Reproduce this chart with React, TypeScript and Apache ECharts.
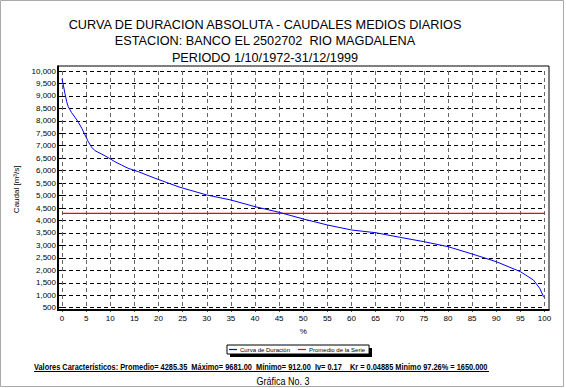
import React, { useEffect, useRef } from "react";
import * as echarts from "echarts";

const titleLines = [
  "CURVA DE DURACION ABSOLUTA - CAUDALES MEDIOS DIARIOS",
  "ESTACION: BANCO EL 2502702  RIO MAGDALENA",
  "PERIODO 1/10/1972-31/12/1999",
];

const pctValues = [0, 0.27, 0.6, 0.97, 1.3, 2.0, 2.7, 3.4, 4.1, 4.77, 5.45, 6.15, 6.84, 8.2, 9.6, 10.96, 12.3, 13.7, 15.8, 19.3, 24.45, 30, 35, 40, 45, 50, 55, 60, 65, 70, 75, 80, 85, 90, 95, 97.7, 99, 99.8, 100];
const caudalValues = [9681, 9438, 9105, 8768, 8567, 8327, 8142, 7941, 7700, 7432, 7163, 6938, 6802, 6669, 6521, 6360, 6228, 6095, 5960, 5694, 5333, 5024, 4823, 4555, 4329, 4061, 3820, 3619, 3510, 3326, 3151, 2950, 2656, 2347, 1946, 1613, 1280, 943, 912];

const promedio = 4285.35;
const promedioPct = [0, 100];

const seriesNames = ["Curva de Duración", "Promedio de la Serie"];
const statsText =
  "Valores Característicos: Promedio= 4285.35  Máximo= 9681.00  Mínimo= 912.00  Iv= 0.17    Kr = 0.04885 Minimo 97.26% = 1650.000";
const footerText = "Gráfica No. 3";
const yAxisName = "Caudal [m³/s]";
const xAxisName = "%";

const fmt = (v: number) => {
  const s = String(Math.round(v));
  return s.replace(/\B(?=(\d{3})+(?!\d))/g, ",");
};

export default function App() {
  const ref = useRef<HTMLDivElement>(null);
  useEffect(() => {
    if (!ref.current) return;
    const chart = echarts.init(ref.current, null, { renderer: "svg" });
    const font = "Liberation Sans, Arial, sans-serif";
    chart.setOption({
      animation: false,
      backgroundColor: "#ffffff",
      grid: {
        left: 62,
        right: 21.5,
        top: 71,
        bottom: 80.3,
        outerBoundsMode: "none",
        containLabel: false,
      },
      legend: {
        left: 227,
        top: 345,
        data: seriesNames.map((n) => ({ name: n, icon: "rect" })),
        orient: "horizontal",
        itemWidth: 8,
        itemHeight: 1.2,
        itemGap: 8,
        padding: [1, 4, 1, 2],
        backgroundColor: "#ffffff",
        borderColor: "#000",
        borderWidth: 1,
        borderRadius: 0,
        textStyle: { fontSize: 6, fontFamily: font, color: "#000", padding: [0, 0, 0, -2], lineHeight: 7 },
        z: 10,
      },
      xAxis: {
        type: "value",
        min: 0,
        max: 100,
        interval: 5,
        offset: 2,
        name: xAxisName,
        nameLocation: "middle",
        nameGap: 18,
        nameTextStyle: { fontSize: 8, fontFamily: font, color: "#000" },
        axisLine: { show: false },
        axisTick: { show: true, length: 2, lineStyle: { color: "#000" } },
        axisLabel: { fontSize: 8, fontFamily: font, color: "#000", margin: 5 },
        splitLine: { show: true, lineStyle: { color: "#666", type: [4, 3], width: 1 } },
      },
      yAxis: {
        type: "value",
        min: 500,
        max: 10000,
        interval: 500,
        offset: 4,
        name: yAxisName,
        nameLocation: "middle",
        nameRotate: 90,
        nameGap: 33,
        nameTextStyle: { fontSize: 8, fontFamily: font, color: "#000" },
        axisLine: { show: false },
        axisTick: { show: true, length: 3, lineStyle: { color: "#000" } },
        axisLabel: { fontSize: 8, fontFamily: font, color: "#000", margin: 2, formatter: fmt },
        splitLine: { show: true, lineStyle: { color: "#000", type: [4, 3], width: 1 } },
      },
      series: [
        {
          name: seriesNames[0],
          type: "line",
          data: pctValues.map((p, i) => [p, caudalValues[i]]),
          showSymbol: false,
          symbol: "none",
          lineStyle: { color: "#0000ff", width: 1 },
          itemStyle: { color: "#0000ff" },
          z: 5,
        },
        {
          name: seriesNames[1],
          type: "line",
          data: promedioPct.map((p) => [p, promedio]),
          showSymbol: false,
          symbol: "none",
          lineStyle: { color: "#ff0000", width: 1.2 },
          itemStyle: { color: "#ff0000" },
          z: 4,
        },
      ],
      graphic: [
        {
          type: "rect",
          shape: { x: 0.5, y: 0.5, width: 563, height: 386 },
          style: { fill: "none", stroke: "#aaa", lineWidth: 1 },
          silent: true,
          z: 0,
        },
        {
          type: "rect",
          shape: { x: 58, y: 66, width: 491, height: 244 },
          style: { fill: "none", stroke: "#000", lineWidth: 1 },
          silent: true,
          z: 6,
        },
        {
          type: "line",
          shape: { x1: 58, y1: 65.5, x2: 58, y2: 310 },
          style: { stroke: "#000", lineWidth: 2 },
          silent: true,
          z: 6,
        },
        {
          type: "line",
          shape: { x1: 57, y1: 310, x2: 549.5, y2: 310 },
          style: { stroke: "#000", lineWidth: 2 },
          silent: true,
          z: 6,
        },
        {
          type: "rect",
          shape: { x: 230, y: 348, width: 142, height: 9 },
          style: { fill: "#000" },
          silent: true,
          z: 9,
        },
        ...titleLines.map((t, i) => ({
          type: "text",
          x: 265,
          y: 24.5 + i * 16.5,
          style: {
            text: t,
            font: `12.7px ${font}`,
            fill: "#000",
            textAlign: "center",
            textVerticalAlign: "middle",
          },
          silent: true,
        })),
        {
          type: "text",
          x: 34,
          y: 367,
          scaleX: 0.87,
          style: {
            text: statsText,
            font: `bold 8.5px ${font}`,
            fill: "#000",
            textAlign: "left",
            textVerticalAlign: "middle",
          },
          silent: true,
        },
        {
          type: "line",
          shape: { x1: 34, y1: 371.5, x2: 489, y2: 371.5 },
          style: { stroke: "#000", lineWidth: 1 },
          silent: true,
        },
        {
          type: "text",
          x: 283,
          y: 381,
          scaleX: 0.82,
          style: {
            text: footerText,
            font: `11px ${font}`,
            fill: "#000",
            textAlign: "center",
            textVerticalAlign: "middle",
          },
          silent: true,
        },
      ],
    });
    return () => chart.dispose();
  }, []);
  return (
    <div
      ref={ref}
      style={{ position: "fixed", left: 0, top: 0, width: 566, height: 388 }}
    />
  );
}
